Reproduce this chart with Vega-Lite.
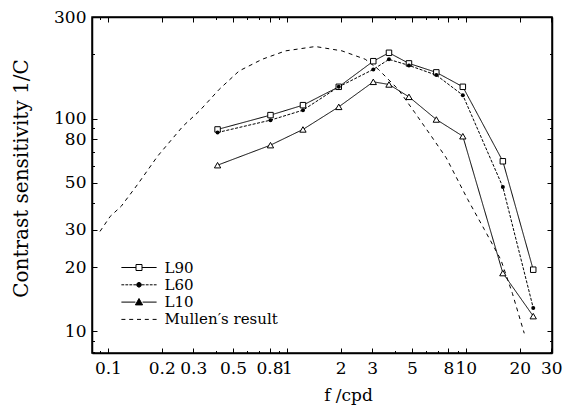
{
  "$schema": "https://vega.github.io/schema/vega-lite/v6.json",
  "width": 460,
  "height": 336,
  "autosize": "none",
  "padding": {"left": 92, "top": 17, "right": 23, "bottom": 52},
  "background": "white",
  "config": {
    "font": "DejaVu Serif",
    "view": {"stroke": "black", "strokeWidth": 1.5},
    "axis": {
      "grid": false, "domainColor": "black", "domainWidth": 1.5,
      "labelFont": "DejaVu Serif", "titleFont": "DejaVu Serif",
      "labelColor": "black", "titleColor": "black",
      "labelFontSize": 17, "titleFontWeight": "normal",
      "labelOverlap": false, "labelBound": false, "labelFlush": false
    }
  },
  "data": {"values": [
    {"series": "L90", "f": 0.41, "cs": 88.9},
    {"series": "L90", "f": 0.81, "cs": 103.8},
    {"series": "L90", "f": 1.23, "cs": 115.6},
    {"series": "L90", "f": 1.95, "cs": 141},
    {"series": "L90", "f": 3.04, "cs": 186},
    {"series": "L90", "f": 3.72, "cs": 203.7},
    {"series": "L90", "f": 4.81, "cs": 181.6},
    {"series": "L90", "f": 6.84, "cs": 164.8},
    {"series": "L90", "f": 9.62, "cs": 141},
    {"series": "L90", "f": 16.1, "cs": 63},
    {"series": "L90", "f": 23.8, "cs": 19.5},
    {"series": "L60", "f": 0.41, "cs": 86},
    {"series": "L60", "f": 0.81, "cs": 98.3},
    {"series": "L60", "f": 1.23, "cs": 109.5},
    {"series": "L60", "f": 1.95, "cs": 141},
    {"series": "L60", "f": 3.04, "cs": 170.2},
    {"series": "L60", "f": 3.72, "cs": 189.7},
    {"series": "L60", "f": 4.81, "cs": 177.7},
    {"series": "L60", "f": 6.84, "cs": 160},
    {"series": "L60", "f": 9.62, "cs": 128.8},
    {"series": "L60", "f": 16.1, "cs": 47.7},
    {"series": "L60", "f": 23.8, "cs": 12.9},
    {"series": "L10", "f": 0.41, "cs": 60.4},
    {"series": "L10", "f": 0.81, "cs": 75},
    {"series": "L10", "f": 1.23, "cs": 88.9},
    {"series": "L10", "f": 1.95, "cs": 113.5},
    {"series": "L10", "f": 3.04, "cs": 148.8},
    {"series": "L10", "f": 3.72, "cs": 144.6},
    {"series": "L10", "f": 4.81, "cs": 126.5},
    {"series": "L10", "f": 6.84, "cs": 99},
    {"series": "L10", "f": 9.62, "cs": 82.6},
    {"series": "L10", "f": 16.1, "cs": 18.8},
    {"series": "L10", "f": 23.8, "cs": 11.8},
    {"series": "Mullen′s result", "f": 0.0903, "cs": 29.5},
    {"series": "Mullen′s result", "f": 0.103, "cs": 34.7},
    {"series": "Mullen′s result", "f": 0.1186, "cs": 38.7},
    {"series": "Mullen′s result", "f": 0.1464, "cs": 49.0},
    {"series": "Mullen′s result", "f": 0.1896, "cs": 66.6},
    {"series": "Mullen′s result", "f": 0.263, "cs": 92.2},
    {"series": "Mullen′s result", "f": 0.3245, "cs": 108.5},
    {"series": "Mullen′s result", "f": 0.419, "cs": 137.2},
    {"series": "Mullen′s result", "f": 0.541, "cs": 167.4},
    {"series": "Mullen′s result", "f": 0.729, "cs": 190},
    {"series": "Mullen′s result", "f": 0.984, "cs": 208},
    {"series": "Mullen′s result", "f": 1.443, "cs": 218},
    {"series": "Mullen′s result", "f": 2.03, "cs": 208},
    {"series": "Mullen′s result", "f": 2.74, "cs": 190},
    {"series": "Mullen′s result", "f": 3.24, "cs": 170.5},
    {"series": "Mullen′s result", "f": 4.19, "cs": 137.2},
    {"series": "Mullen′s result", "f": 5.19, "cs": 106.6},
    {"series": "Mullen′s result", "f": 6.41, "cs": 82.7},
    {"series": "Mullen′s result", "f": 7.77, "cs": 65.4},
    {"series": "Mullen′s result", "f": 10.26, "cs": 41.6},
    {"series": "Mullen′s result", "f": 12.7, "cs": 30.1},
    {"series": "Mullen′s result", "f": 15.7, "cs": 21.7},
    {"series": "Mullen′s result", "f": 18.2, "cs": 15.1},
    {"series": "Mullen′s result", "f": 21.2, "cs": 9.8}
  ]},
  "layer": [
    {
      "transform": [{"filter": "datum.series === 'Mullen′s result'"}],
      "mark": {"type": "line", "stroke": "black", "strokeWidth": 1, "strokeDash": [4, 4]},
      "encoding": {
        "x": {"field": "f", "type": "quantitative",
          "scale": {"type": "log", "domain": [0.0815, 30.3], "nice": false},
          "axis": {"orient": "bottom", "tickColor": "black", "tickWidth": 1,
            "values": [0.09, 0.1, 0.2, 0.3, 0.4, 0.5, 0.6, 0.7, 0.8, 0.9, 1, 2, 3, 4, 5, 6, 7, 8, 9, 10, 20, 30],
            "format": "~g",
            "labelExpr": "indexof([0.1,0.2,0.3,0.5,0.8,1,2,3,5,8,10,20,30], datum.value) >= 0 ? datum.label : ''",
            "tickSize": {"condition": {"test": "indexof([0.1,0.2,0.3,0.5,0.8,1,2,3,5,8,10,20,30], datum.value) >= 0", "value": -5}, "value": -2.5},
            "labelPadding": 12,
            "title": "f /cpd", "titleFontSize": 17, "titlePadding": 9, "titleX": 256}},
        "y": {"field": "cs", "type": "quantitative",
          "scale": {"type": "log", "domain": [7.92, 300], "nice": false},
          "axis": {"orient": "left", "tickColor": "black", "tickWidth": 1,
            "values": [8, 9, 10, 20, 30, 40, 50, 60, 70, 80, 90, 100, 200, 300],
            "format": "~g",
            "labelExpr": "indexof([10,20,30,50,80,100,300], datum.value) >= 0 ? datum.label : ''",
            "tickSize": {"condition": {"test": "indexof([10,20,30,50,80,100,300], datum.value) >= 0", "value": -5}, "value": -2.5},
            "labelPadding": 11,
            "title": "Contrast sensitivity 1/C", "titleFontSize": 20, "titlePadding": 22, "titleY": 161}}
      }
    },
    {
      "transform": [{"filter": "datum.series !== 'Mullen′s result'"}],
      "mark": {"type": "line", "stroke": "black", "strokeWidth": 1},
      "encoding": {
        "x": {"field": "f", "type": "quantitative",
          "axis": {"orient": "top", "tickColor": "black", "tickWidth": 1,
            "values": [0.09, 0.1, 0.2, 0.3, 0.4, 0.5, 0.6, 0.7, 0.8, 0.9, 1, 2, 3, 4, 5, 6, 7, 8, 9, 10, 20, 30],
            "labels": false, "title": null,
            "tickSize": {"condition": {"test": "indexof([0.1,0.2,0.3,0.5,0.8,1,2,3,5,8,10,20,30], datum.value) >= 0", "value": -5}, "value": -2.5}}},
        "y": {"field": "cs", "type": "quantitative",
          "axis": {"orient": "right", "tickColor": "black", "tickWidth": 1,
            "values": [8, 9, 10, 20, 30, 40, 50, 60, 70, 80, 90, 100, 200, 300],
            "labels": false, "title": null,
            "tickSize": {"condition": {"test": "indexof([10,20,30,50,80,100,300], datum.value) >= 0", "value": -5}, "value": -2.5}}},
        "detail": {"field": "series"},
        "strokeDash": {"field": "series", "type": "nominal",
          "scale": {"domain": ["L90", "L60", "L10"], "range": [[1, 0], [3, 1.5], [1, 0]]},
          "legend": null}
      }
    },
    {
      "transform": [{"filter": "datum.series === 'L90'"}],
      "mark": {"type": "point", "shape": "square", "filled": true, "fill": "white", "stroke": "black", "strokeWidth": 1, "size": 30, "opacity": 1},
      "encoding": {
        "x": {"field": "f", "type": "quantitative", "axis": null},
        "y": {"field": "cs", "type": "quantitative", "axis": null}
      }
    },
    {
      "transform": [{"filter": "datum.series === 'L60'"}],
      "mark": {"type": "point", "shape": "circle", "filled": true, "fill": "black", "size": 16, "opacity": 1},
      "encoding": {
        "x": {"field": "f", "type": "quantitative", "axis": null},
        "y": {"field": "cs", "type": "quantitative", "axis": null}
      }
    },
    {
      "transform": [{"filter": "datum.series === 'L10'"}],
      "mark": {"type": "point", "shape": "triangle-up", "filled": true, "fill": "white", "stroke": "black", "strokeWidth": 1, "size": 40, "opacity": 1},
      "encoding": {
        "x": {"field": "f", "type": "quantitative", "axis": null},
        "y": {"field": "cs", "type": "quantitative", "axis": null}
      }
    },
    {
      "transform": [{"filter": "datum.series === 'legend-only'"}],
      "mark": {"type": "point", "strokeWidth": 1, "size": 64, "opacity": 1},
      "encoding": {
        "x": {"field": "f", "type": "quantitative", "axis": null},
        "y": {"field": "cs", "type": "quantitative", "axis": null},
        "shape": {"field": "series", "type": "nominal", "title": null,
          "scale": {"domain": ["L90", "L60", "L10", "Mullen′s result"],
            "range": [
              "M-4.4,0H-0.75M0.75,0H4.4M-0.75,-0.75H0.75V0.75H-0.75Z",
              "M-4.4,0H-3.7M-3.4,0H-2.7M-2.4,0H-1.7M-1.4,0H-0.7M0.7,0H1.4M1.7,0H2.4M2.7,0H3.4M3.7,0H4.4M0.6,0L0.42,0.42L0,0.6L-0.42,0.42L-0.6,0L-0.42,-0.42L0,-0.6L0.42,-0.42Z",
              "M-4.4,0H-0.9M0.9,0H4.4M-0.9,0.7L0,-0.9L0.9,0.7Z",
              "M-4.4,0H-3.4M-2.45,0H-1.45M-0.5,0H0.5M1.45,0H2.45M3.4,0H4.4"
            ]},
          "legend": {"orient": "none", "legendX": 39.5, "legendY": 243,
            "symbolSize": 64, "symbolStrokeWidth": 1, "symbolOpacity": 1,
            "labelFont": "DejaVu Serif", "labelFontSize": 15, "labelColor": "black", "labelOffset": 18,
            "rowPadding": 1.3, "padding": 0}},
        "fill": {"field": "series", "type": "nominal", "title": null,
          "scale": {"domain": ["L90", "L60", "L10", "Mullen′s result"], "range": ["white", "black", "black", "transparent"]}},
        "stroke": {"field": "series", "type": "nominal", "title": null,
          "scale": {"domain": ["L90", "L60", "L10", "Mullen′s result"], "range": ["black", "black", "black", "black"]}}
      }
    }
  ],
  "resolve": {"axis": {"x": "independent", "y": "independent"}}
}
